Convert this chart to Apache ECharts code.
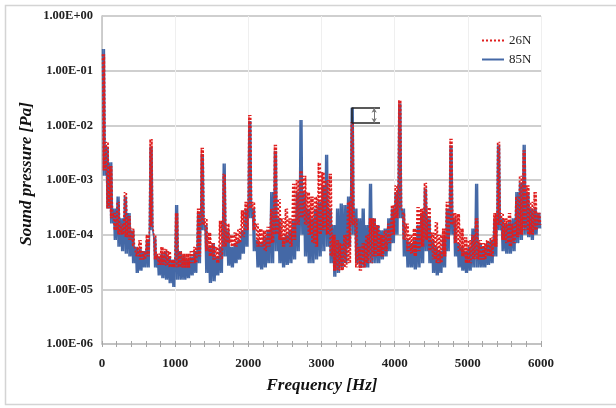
<!DOCTYPE html>
<html><head><meta charset="utf-8">
<script src="https://cdn.jsdelivr.net/npm/echarts@6/dist/echarts.min.js"></script>
<style>html,body{margin:0;padding:0;background:#fff}#c{width:616px;height:408px}</style>
</head><body><div id="c"></div>
<script>
// Spectrum in 50 Hz bins: max (hi) and min (lo) of each bin
var BIN = 50;
var xTicks = [0, 1000, 2000, 3000, 4000, 5000, 6000];
var seriesNames = ['26N', '85N'];

var blueHi = [
  0.25, 4e-3, 2.1e-3, 3e-4, 5e-4, 2e-4, 5e-4, 2.5e-4, 1.2e-4, 6e-5,
  5.5e-5, 5e-5, 8e-5, 4e-3, 9e-5, 4e-5, 4.5e-5, 5e-5, 4e-5, 3.5e-5,
  3.5e-4, 5e-5, 4e-5, 3.5e-5, 4e-5, 5e-5, 2.5e-4, 3e-3, 1.5e-4, 6e-5,
  7e-5, 4e-5, 6e-5, 2e-3, 1.2e-4, 6e-5, 7e-5, 8e-5, 1.2e-4, 3e-4,
  1.2e-2, 3e-4, 8e-5, 7e-5, 9e-5, 1.2e-4, 6e-4, 3.4e-3, 2e-4, 9e-5,
  1e-4, 1.2e-4, 1.8e-4, 6e-4, 1.25e-2, 6e-4, 3e-4, 2e-4, 3e-4, 4e-4,
  8e-4, 2.9e-3, 3e-4, 1.5e-4, 3e-4, 3.7e-4, 3.5e-4, 5e-4, 2.1e-2, 3e-4,
  2e-4, 3e-4, 1.5e-4, 8.5e-4, 2e-4, 1.5e-4, 1.2e-4, 1.3e-4, 2e-4, 3e-4,
  6e-4, 2.5e-2, 3e-4, 8e-5, 7e-5, 8e-5, 1.5e-4, 2.5e-4, 7e-4, 2e-4,
  8e-5, 6e-5, 5e-5, 9e-5, 3e-4, 4.3e-3, 2e-4, 7e-5, 6e-5, 5e-5,
  6e-5, 1.3e-4, 8.5e-4, 7e-5, 6e-5, 7e-5, 8e-5, 2e-4, 4.3e-3, 2e-4,
  1.6e-4, 1.8e-4, 2e-4, 6e-4, 9e-4, 4.4e-3, 6e-4, 3e-4, 3e-4, 2.5e-4
];
var blueLo = [
  1.2e-3, 3e-4, 1.6e-4, 8e-5, 6e-5, 5e-5, 4.5e-5, 4e-5, 3e-5, 2e-5,
  2.2e-5, 2.5e-5, 2.5e-5, 1.2e-4, 2.5e-5, 1.8e-5, 1.6e-5, 1.5e-5, 1.3e-5, 1.1e-5,
  1.5e-5, 1.5e-5, 1.5e-5, 1.6e-5, 1.8e-5, 2e-5, 3e-5, 1.2e-4, 2e-5, 1.3e-5,
  1.4e-5, 1.8e-5, 2e-5, 4e-5, 2.7e-5, 2.5e-5, 3e-5, 3.5e-5, 4.5e-5, 6e-5,
  2e-4, 5e-5, 2.5e-5, 2.3e-5, 2.5e-5, 3e-5, 3e-5, 5e-5, 3e-5, 2.5e-5,
  2.8e-5, 3e-5, 3.5e-5, 5e-5, 1e-4, 4e-5, 3e-5, 3e-5, 3.5e-5, 4e-5,
  5e-5, 6e-5, 3e-5, 1.7e-5, 2e-5, 2.5e-5, 3e-5, 6e-5, 1e-4, 3e-5,
  2.5e-5, 2.5e-5, 2.5e-5, 3e-5, 3e-5, 3e-5, 3.5e-5, 4e-5, 5e-5, 7e-5,
  1e-4, 2e-4, 4e-5, 2.5e-5, 2.5e-5, 2.3e-5, 2.5e-5, 3e-5, 5e-5, 3e-5,
  2e-5, 1.8e-5, 2e-5, 2.5e-5, 5e-5, 1e-4, 4e-5, 2.5e-5, 2.2e-5, 2e-5,
  2.2e-5, 2.5e-5, 2.5e-5, 2.5e-5, 2.5e-5, 2.8e-5, 3e-5, 4e-5, 1.2e-4, 5e-5,
  4.5e-5, 4.5e-5, 5e-5, 7e-5, 8e-5, 1e-4, 9e-5, 8e-5, 1e-4, 1.3e-4
];
var redHi = [
  0.2, 5e-3, 1.8e-3, 2.5e-4, 4e-4, 1.6e-4, 6e-4, 2.2e-4, 1.3e-4, 6e-5,
  8e-5, 5e-5, 1e-4, 5.6e-3, 1e-4, 4.5e-5, 6e-5, 5.5e-5, 5e-5, 3.5e-5,
  2.5e-4, 5e-5, 4.5e-5, 4.5e-5, 5e-5, 6e-5, 3e-4, 3.9e-3, 2e-4, 1.1e-4,
  7e-5, 6e-5, 1.8e-4, 1.3e-3, 1.6e-4, 1e-4, 1.1e-4, 1.3e-4, 2.8e-4, 4e-4,
  1.55e-2, 4e-4, 1.6e-4, 1.3e-4, 1.2e-4, 1.4e-4, 3e-4, 4.4e-3, 4.5e-4, 2e-4,
  3e-4, 2e-4, 8.5e-4, 1e-3, 1.5e-3, 1.2e-3, 6e-4, 5e-4, 5e-4, 2.1e-3,
  1.4e-3, 1e-3, 1.3e-3, 1e-4, 8e-5, 7e-5, 1e-4, 4e-4, 1.15e-2, 2e-4,
  6e-5, 7e-5, 1e-4, 2e-4, 2e-4, 1.5e-4, 1e-4, 1.2e-4, 1.6e-4, 3.5e-4,
  8e-4, 2.9e-2, 2.5e-4, 1.6e-4, 1e-4, 1.3e-4, 3.2e-4, 3e-4, 8.9e-4, 3.2e-4,
  1.1e-4, 1.7e-4, 1e-4, 1.3e-4, 4e-4, 5.7e-3, 2.5e-4, 2.4e-4, 1.3e-4, 9e-5,
  8e-5, 1e-4, 2e-4, 8e-5, 7e-5, 8e-5, 9e-5, 2.5e-4, 5e-3, 2.5e-4,
  2e-4, 2.5e-4, 1.6e-4, 5e-4, 1.2e-3, 3.5e-3, 8e-4, 4e-4, 6e-4, 2.5e-4
];
var redLo = [
  1.5e-3, 3e-4, 2e-4, 1.2e-4, 1e-4, 1e-4, 9e-5, 8e-5, 6e-5, 4e-5,
  3.5e-5, 3.5e-5, 4e-5, 1.4e-4, 3.5e-5, 2.8e-5, 2.8e-5, 2.7e-5, 2.5e-5, 2.5e-5,
  2.5e-5, 2.5e-5, 2.5e-5, 2.5e-5, 3e-5, 3e-5, 4e-5, 1.5e-4, 5e-5, 4e-5,
  3.5e-5, 3e-5, 3.5e-5, 6e-5, 7e-5, 6e-5, 6e-5, 7e-5, 9e-5, 1.2e-4,
  3e-4, 1.2e-4, 6e-5, 6e-5, 5e-5, 6e-5, 7e-5, 1e-4, 8e-5, 6e-5,
  7e-5, 6e-5, 8e-5, 1.5e-4, 2e-4, 1.5e-4, 1e-4, 7e-5, 6e-5, 1e-4,
  1.2e-4, 1e-4, 4e-5, 2.2e-5, 2.2e-5, 2.2e-5, 2.5e-5, 3e-5, 1.5e-4, 2.5e-5,
  2.2e-5, 2.5e-5, 3e-5, 3e-5, 4e-5, 4e-5, 4e-5, 5e-5, 7e-5, 1e-4,
  2e-4, 3e-4, 8e-5, 5e-5, 4.5e-5, 4e-5, 5e-5, 6e-5, 8e-5, 5e-5,
  3.5e-5, 3e-5, 3e-5, 4e-5, 8e-5, 1.5e-4, 7e-5, 5e-5, 4e-5, 3e-5,
  3e-5, 3.5e-5, 3.5e-5, 3.5e-5, 3.5e-5, 4e-5, 4e-5, 6e-5, 1.5e-4, 8e-5,
  7e-5, 6e-5, 7e-5, 9e-5, 1e-4, 1.2e-4, 1e-4, 1e-4, 1.2e-4, 1.5e-4
];

// Annotation bracket (blue vs red peak at ~3400 Hz)
var annotX = [3412, 3800];
var annotY = [2.1e-2, 1.1e-2];
var annotArrowX = 3720;

// each bin is drawn as two up/down swings between its read max and min,
// so the dense spectrum reads as a filled band
function build(hi, lo) {
  var d = [];
  for (var i = 0; i < hi.length; i++) {
    d.push([i * BIN + 8, hi[i]]);
    d.push([i * BIN + 20, lo[i]]);
    d.push([i * BIN + 32, hi[i]]);
    d.push([i * BIN + 44, lo[i]]);
  }
  return d;
}
function fmtE(v) {
  var e = Math.round(Math.log10(v));
  var a = Math.abs(e);
  return '1.00E' + (e < 0 ? '-' : '+') + (a < 10 ? '0' : '') + a;
}
var SERIF = '"Liberation Serif","DejaVu Serif",serif';

var chart = echarts.init(document.getElementById('c'), null, {renderer: 'canvas'});
chart.setOption({
  animation: false,
  backgroundColor: '#fff',
  grid: {left: 102, right: 75, top: 16, bottom: 64},
  legend: {
    data: seriesNames, orient: 'vertical', left: 476, top: 29,
    itemWidth: 22, itemHeight: 10, itemGap: 6,
    itemStyle: {opacity: 0},
    textStyle: {fontFamily: SERIF, fontSize: 13, color: '#222'}
  },
  xAxis: [{
    type: 'value', min: xTicks[0], max: xTicks[xTicks.length - 1], interval: 1000,
    axisLine: {lineStyle: {color: '#BFBFBF', width: 1.5}},
    axisTick: {show: true, length: 3, lineStyle: {color: '#A6A6A6'}},
    minorTick: {show: true, splitNumber: 5, length: 3, lineStyle: {color: '#A6A6A6'}},
    axisLabel: {margin: 13, fontFamily: SERIF, fontWeight: 'bold', fontSize: 13, color: '#222',
      formatter: function (v) { return String(v); }},
    splitLine: {show: true, lineStyle: {color: '#EFEFEF', width: 1}}
  }, {
    type: 'value', min: xTicks[0], max: xTicks[xTicks.length - 1], interval: 1000, position: 'bottom',
    axisLine: {show: false},
    axisTick: {show: true, inside: true, length: 3, lineStyle: {color: '#A6A6A6'}},
    minorTick: {show: true, splitNumber: 5, length: 3, lineStyle: {color: '#A6A6A6'}},
    axisLabel: {show: false}, splitLine: {show: false}
  }],
  yAxis: {
    type: 'log', logBase: 10, min: 1e-6, max: 1, splitNumber: 6,
    axisLine: {show: true, lineStyle: {color: '#BFBFBF', width: 1.5}},
    axisTick: {show: false},
    axisLabel: {margin: 9, fontFamily: SERIF, fontWeight: 'bold', fontSize: 12.5, color: '#222', formatter: fmtE},
    splitLine: {show: true, lineStyle: {color: '#BFBFBF', width: 1.5}}
  },
  series: [{
    name: seriesNames[0], type: 'line', symbol: 'none', z: 4,
    data: build(redHi, redLo),
    lineStyle: {color: '#E01E1E', width: 1.7, type: [2, 2]},
    itemStyle: {color: '#E01E1E'}
  }, {
    name: seriesNames[1], type: 'line', symbol: 'none', z: 3,
    data: build(blueHi, blueLo),
    lineStyle: {color: '#4468A6', width: 1.6},
    itemStyle: {color: '#4468A6'},
    markLine: {
      silent: true, symbol: 'none', label: {show: false}, animation: false,
      lineStyle: {color: '#222', width: 1.5, type: 'solid'},
      data: [
        [{coord: [annotX[0], annotY[0]]}, {coord: [annotX[1], annotY[0]]}],
        [{coord: [annotX[0], annotY[1]]}, {coord: [annotX[1], annotY[1]]}],
        [{coord: [annotX[0], annotY[0]]}, {coord: [annotX[0], annotY[1]]}],
        [{coord: [annotArrowX, annotY[0]], symbol: 'arrow', symbolSize: [4, 5]},
         {coord: [annotArrowX, annotY[1]], symbol: 'arrow', symbolSize: [4, 5],
          lineStyle: {color: '#777', width: 1}}]
      ]
    }
  }],
  graphic: [
    {type: 'rect', shape: {x: 5.5, y: 5.5, width: 640, height: 399}, style: {fill: 'none', stroke: '#D4D4D4', lineWidth: 1.5}, silent: true},
    {type: 'text', x: 322, y: 386, style: {text: 'Frequency [Hz]', font: 'italic bold 17px "Liberation Serif"', fill: '#111', textAlign: 'center', textVerticalAlign: 'middle'}},
    {type: 'text', x: 27, y: 174, rotation: Math.PI / 2, style: {text: 'Sound pressure [Pa]', font: 'italic bold 17px "Liberation Serif"', fill: '#111', textAlign: 'center', textVerticalAlign: 'middle'}}
  ]
});
</script></body></html>
